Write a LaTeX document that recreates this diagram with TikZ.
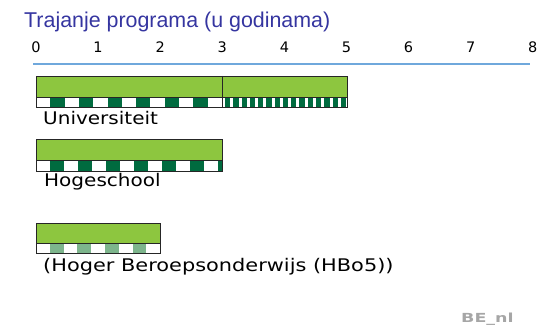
\documentclass[tikz,border=0pt]{standalone}
\usepackage{fontspec}
\setmainfont{Liberation Sans}
\newfontfamily\verd[FakeStretch=1.15]{DejaVu Sans}
\newfontfamily\verdw[FakeStretch=1.2]{DejaVu Sans}
\newfontfamily\verdn{DejaVu Sans}
\newfontfamily\wmfont[FakeStretch=1.4]{DejaVu Sans Bold}
\definecolor{barfill}{HTML}{8DC63F}
\definecolor{darkg}{HTML}{006B3F}
\definecolor{lightg}{HTML}{7DB58C}
\definecolor{titleblue}{HTML}{3535A0}
\definecolor{axisblue}{HTML}{6FA8DC}
\definecolor{wm}{HTML}{A6A6A6}
\tikzset{
  bargreen/.style={fill=barfill, draw=black!85, line width=0.8pt},
  stripbox/.style={draw=black!85, line width=0.8pt},
  lbl/.style={anchor=base west, inner sep=0pt, font=\verd\fontsize{17.4}{20}\selectfont},
  num/.style={anchor=base, inner sep=0pt, font=\verdn\fontsize{14.5}{16}\selectfont},
}
\begin{document}
\begin{tikzpicture}[x=1pt,y=-1pt]
\useasboundingbox (0,0) rectangle (544,326);
% title
\node[anchor=base west, inner sep=0pt, text=titleblue, font=\fontsize{21.4}{25}\selectfont] (title) at (24,28) {Trajanje programa (u godinama)};
% axis numbers
\foreach \k in {0,...,8} {
  \node[num] (n\k) at ({36+62.1*\k},52.5) {\k};
}
\draw[axisblue, line width=1.3pt] (33,64) -- (530,64);
% Universiteit
\fill[white] (36,97) rectangle (347,107);
\foreach \i in {1,3,...,11} {
  \fill[darkg] ({36+14.3*\i},97) rectangle ({36+14.3*(\i+1)},107);
}
\foreach \j in {0,...,14} {
  \fill[darkg] ({222+3+8.27*\j},97) rectangle ({222+8.27*(\j+1)},107);
}
\draw[stripbox] (36,97) rectangle (347,107);
\draw[bargreen] (36,76) rectangle (347,97);
\draw[black!85, line width=1pt] (222,76) -- (222,107);
\node[lbl] (uni) at (43,124.7) {Universiteit};
% Hogeschool
\fill[white] (36,160) rectangle (222,171);
\foreach \i in {1,3,...,13} {
  \fill[darkg] ({36+14*\i},160) rectangle ({min(36+14*(\i+1),222)},171);
}
\draw[stripbox] (36,160) rectangle (222,171);
\draw[bargreen] (36,139) rectangle (222,160);
\node[lbl] (hs) at (44,186.7) {Hogeschool};
% HBo5
\fill[white] (36,243) rectangle (160,253);
\foreach \i in {1,3,5,7} {
  \fill[lightg] ({36+13.8*\i},243) rectangle ({36+13.8*(\i+1)},253);
}
\draw[stripbox] (36,243) rectangle (160,253);
\draw[bargreen] (36,223) rectangle (160,243);
\node[lbl, font=\verdw\fontsize{17.4}{20}\selectfont] (hbo) at (43,271.7) {(Hoger Beroepsonderwijs (HBo5))};
% watermark
\node[anchor=base west, inner sep=0pt, text=wm, font=\wmfont\fontsize{12.5}{15}\selectfont] (be) at (461,322) {BE\_nl};
\end{tikzpicture}
\end{document}
